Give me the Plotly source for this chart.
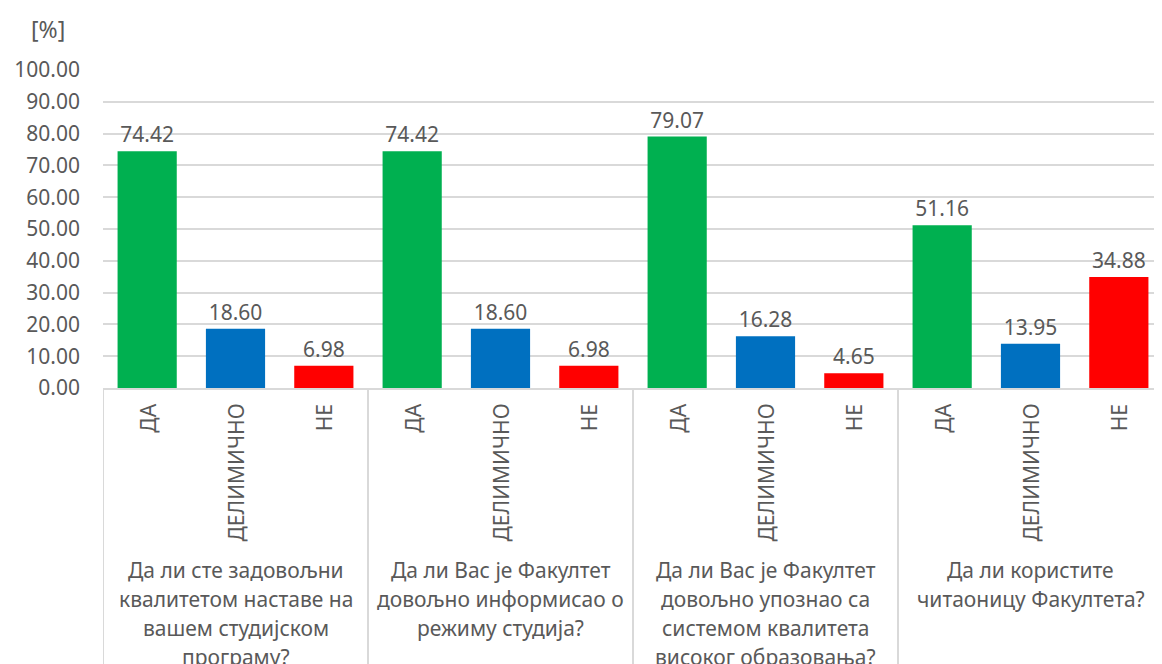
import plotly.graph_objects as go

questions = [
    "Да ли сте задовољни<br>квалитетом наставе на<br>вашем студијском<br>програму?",
    "Да ли Вас је Факултет<br>довољно информисао о<br>режиму студија?",
    "Да ли Вас је Факултет<br>довољно упознао са<br>системом квалитета<br>високог образовања?",
    "Да ли користите<br>читаоницу Факултета?",
]
answers = ["ДА", "ДЕЛИМИЧНО", "НЕ"]
values = [74.42, 18.60, 6.98,
          74.42, 18.60, 6.98,
          79.07, 16.28, 4.65,
          51.16, 13.95, 34.88]
answer_colors = ["#00B050", "#0070C0", "#FF0000"]
y_ticks = [0, 10, 20, 30, 40, 50, 60, 70, 80, 90, 100]

FONT = "Noto Sans"
GRAY = "#595959"
FS = 21
LINE_H = 29

n = len(values)
xs = list(range(n))
cat_labels = [answers[i % 3] for i in xs]
colors = [answer_colors[i % 3] for i in xs]

fig = go.Figure()
fig.add_trace(go.Bar(
    x=xs, y=values,
    marker=dict(color=colors, line=dict(width=0)),
    width=0.67,
    text=[f"{v:.2f}" for v in values],
    textposition="outside",
    textfont=dict(family=FONT, size=FS, color=GRAY),
    cliponaxis=False,
    hoverinfo="skip",
))

# rotated category labels
for i in xs:
    fig.add_annotation(
        x=i, xref="x", y=0, yref="paper",
        text=cat_labels[i], textangle=-90,
        xanchor="center", yanchor="top", yshift=-14,
        showarrow=False,
        font=dict(family=FONT, size=FS, color=GRAY),
    )

# group labels (one annotation per line for Excel-like line spacing)
for g, q in enumerate(questions):
    for k, line in enumerate(q.split("<br>")):
        fig.add_annotation(
            x=g * 3 + 1, xref="x", y=0, yref="paper",
            text=line, xanchor="center", yanchor="top",
            yshift=-166 - k * LINE_H,
            showarrow=False, align="center",
            font=dict(family=FONT, size=FS, color=GRAY),
        )

# group separators
for g in range(len(questions) + 1):
    fig.add_shape(
        type="line", xref="x", yref="paper",
        x0=g * 3 - 0.5, x1=g * 3 - 0.5, y0=0, y1=-1.0,
        line=dict(color="#D9D9D9", width=2),
    )

fig.add_annotation(
    x=0, xref="paper", y=1.0, yref="paper",
    text="[%]", xanchor="center", yanchor="middle",
    xshift=-55, yshift=41,
    showarrow=False, font=dict(family=FONT, size=23, color=GRAY),
)

fig.update_layout(
    width=1162, height=664,
    margin=dict(l=95, r=7, t=62, b=284),
    plot_bgcolor="white", paper_bgcolor="white",
    showlegend=False,
    bargap=0.33,
    font=dict(family=FONT, size=FS, color=GRAY),
)
fig.update_xaxes(
    range=[-0.5, n - 0.5], showticklabels=False, showgrid=False,
    zeroline=False, showline=True, linecolor="#D9D9D9", linewidth=2,
    fixedrange=True,
)
fig.update_yaxes(
    range=[0, 100], tickvals=y_ticks, tickformat=".2f",
    showgrid=True, gridcolor="#D9D9D9", gridwidth=1.5,
    zeroline=False, showline=False,
    tickfont=dict(family=FONT, size=FS, color=GRAY),
    ticklabelstandoff=22, fixedrange=True,
)

fig.write_html("out.html")
